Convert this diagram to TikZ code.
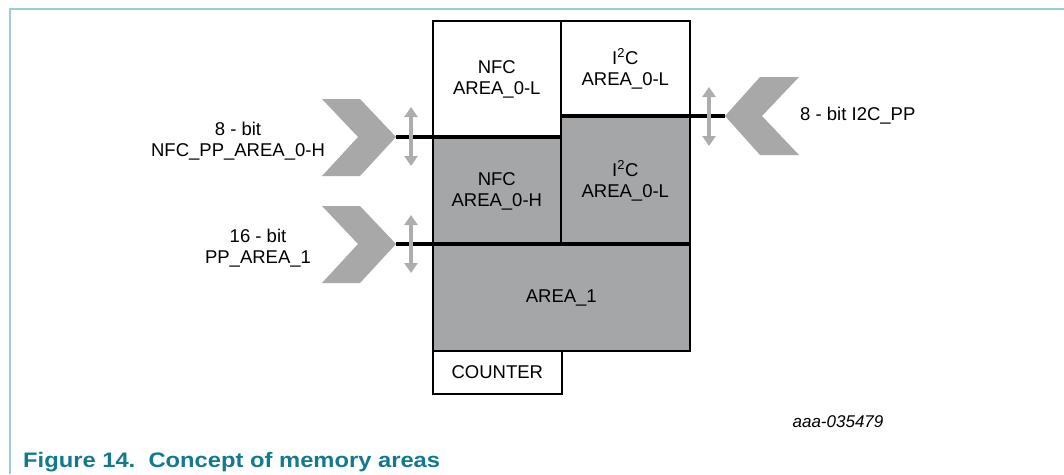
\documentclass[tikz,border=0pt]{standalone}
\usepackage{fontspec}
\setmainfont{Liberation Sans}
\usepackage{graphicx}
\usetikzlibrary{arrows.meta}
\definecolor{areagray}{HTML}{A5A6A8}
\definecolor{chevgray}{HTML}{A8A8A8}
\definecolor{dblgray}{HTML}{ADADAD}
\definecolor{framecol}{HTML}{9FCDD5}
\definecolor{captioncol}{HTML}{127A8C}
\tikzset{
  x=1pt,y=-1pt,
  every node/.style={font=\fontsize{18.5}{21}\selectfont},
  areabox/.style={draw=black,line width=1.6pt,inner sep=0pt,anchor=north west,align=center},
  whitebox/.style={areabox,fill=white},
  graybox/.style={areabox,fill=areagray},
  sep/.style={line width=4pt,black},
  chev/.style={fill=chevgray,draw=none},
  dbl/.style={dblgray,line width=3.2pt,{Triangle[length=10pt,width=13pt]}-{Triangle[length=10pt,width=13pt]}},
  lbl/.style={align=center,inner sep=0pt}
}
\begin{document}
\begin{tikzpicture}
\useasboundingbox (0,0) rectangle (1064,474);
% frame
\draw[framecol,line width=2.2pt] (10,474) -- (10,9) -- (1064,9);
% areas
\node[whitebox,minimum width=128pt,minimum height=117pt] (nfcL) at (432,20) {NFC\\AREA\_0-L};
\node[whitebox,minimum width=129pt,minimum height=96pt] (i2cL) at (560,20) {I\textsuperscript{2}C\\AREA\_0-L};
\node[graybox,minimum width=128pt,minimum height=107pt] (nfcH) at (432,137) {NFC\\AREA\_0-H};
\node[graybox,minimum width=129pt,minimum height=128pt] (i2cH) at (560,116) {I\textsuperscript{2}C\\AREA\_0-L};
\node[graybox,minimum width=257pt,minimum height=106pt] (area1) at (432,244) {AREA\_1};
\node[whitebox,minimum width=129pt,minimum height=43pt] (counter) at (432,350) {COUNTER};
% chevrons
\fill[chev] (322,99) -- (360,99) -- (396,137) -- (360,176) -- (322,176) -- (358,137) -- cycle;
\fill[chev] (322,206) -- (360,206) -- (396,244) -- (360,283) -- (322,283) -- (358,244) -- cycle;
\fill[chev] (799,77) -- (760,77) -- (725,116) -- (760,155) -- (799,155) -- (762,116) -- cycle;
\coordinate (t1) at (396,137);
\coordinate (t2) at (396,244);
\coordinate (t3) at (725,116);
% separators
\draw[sep] (t1) -- (nfcH.north east);
\draw[sep] (t2) -- (area1.north east);
\draw[sep] (i2cH.north west) -- (t3);
% double arrows
\coordinate (d1a) at (411,107); \coordinate (d1b) at (411,166);
\coordinate (d2a) at (411,215); \coordinate (d2b) at (411,273);
\coordinate (d3a) at (709,87);  \coordinate (d3b) at (709,146);
\draw[dbl] (d1a) -- (d1b);
\draw[dbl] (d2a) -- (d2b);
\draw[dbl] (d3a) -- (d3b);
% labels
\node[lbl,anchor=base] (l1) at (238,156) {8 - bit\\NFC\_PP\_AREA\_0-H};
\node[lbl,anchor=base] (l2) at (258,263) {16 - bit\\PP\_AREA\_1};
\node[lbl,anchor=base west] (l3) at (800,120) {8 - bit I2C\_PP};
\node[lbl,anchor=base,font=\fontsize{17}{20}\selectfont\itshape] (code) at (838,427) {aaa-035479};
\node[lbl,anchor=base west,text=captioncol,font=\fontsize{21}{24}\selectfont\bfseries] (cap) at (23,467) {\resizebox{417pt}{\height}{Figure 14.\ \ Concept of memory areas}};
\end{tikzpicture}
\end{document}
